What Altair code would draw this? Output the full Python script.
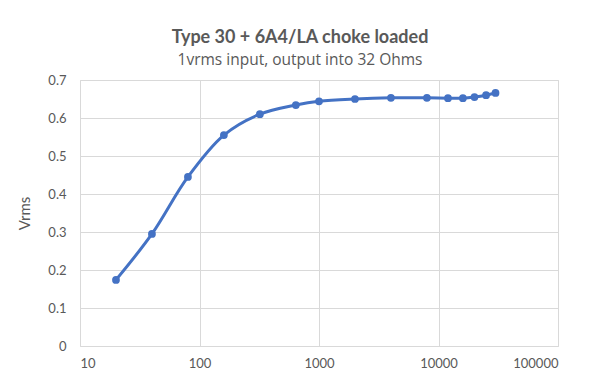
import altair as alt
import pandas as pd

freq = [20, 40, 80, 160, 320, 640, 1000, 2000, 4000, 8000, 12000, 16000, 20000, 25000, 30000]
vrms = [0.174, 0.295, 0.445, 0.555, 0.610, 0.634, 0.644, 0.650, 0.653, 0.653, 0.652, 0.652, 0.655, 0.660, 0.666]
x_ticks = [10, 100, 1000, 10000, 100000]
y_ticks = [0, 0.1, 0.2, 0.3, 0.4, 0.5, 0.6, 0.7]

df = pd.DataFrame({"freq": freq, "vrms": vrms})

FONT = "Lato"
GREY = "#595959"
BLUE = "#4472C4"

x = alt.X("freq:Q",
          scale=alt.Scale(type="log", domain=[10, 100000], nice=False),
          axis=alt.Axis(values=x_ticks, labelExpr="format(datum.value, 'd')",
                        title=None, grid=True, gridColor="#D9D9D9", domain=False,
                        ticks=False, labelPadding=11, labelFontSize=13,
                        labelColor=GREY, labelFont=FONT))
y = alt.Y("vrms:Q",
          scale=alt.Scale(domain=[0, 0.7], nice=False, zero=True),
          axis=alt.Axis(values=y_ticks,
                        labelExpr="datum.value == 0 ? '0' : format(datum.value, '.1f')",
                        title="Vrms", titleFontSize=15, titleFontWeight="normal",
                        titleColor=GREY, titleFont=FONT, titlePadding=15,
                        grid=True, gridColor="#D9D9D9", domain=False, ticks=False,
                        labelPadding=14, labelFontSize=13, labelColor=GREY,
                        labelFont=FONT))

line = alt.Chart(df).mark_line(interpolate="catmull-rom", color=BLUE,
                               strokeWidth=3).encode(x=x, y=y)
pts = alt.Chart(df).mark_circle(color=BLUE, size=60, opacity=1).encode(x=x, y=y)

chart = (line + pts).properties(
    width=478, height=266,
    title=alt.TitleParams(
        text="Type 30 + 6A4/LA choke loaded",
        subtitle="1vrms input, output into 32 Ohms",
        anchor="middle", frame="group", dx=-19, offset=6,
        font=FONT, fontSize=18, fontWeight="bold", color=GREY,
        subtitleFont="Open Sans", subtitleFontSize=15.5, subtitleColor=GREY,
        subtitlePadding=6),
    autosize=alt.AutoSizeParams(type="none"),
    padding={"left": 72, "top": 72, "right": 34, "bottom": 31},
).configure_view(stroke=None).configure(background="white")

chart.save("out.html", embed_options={"renderer": "svg", "actions": False})
